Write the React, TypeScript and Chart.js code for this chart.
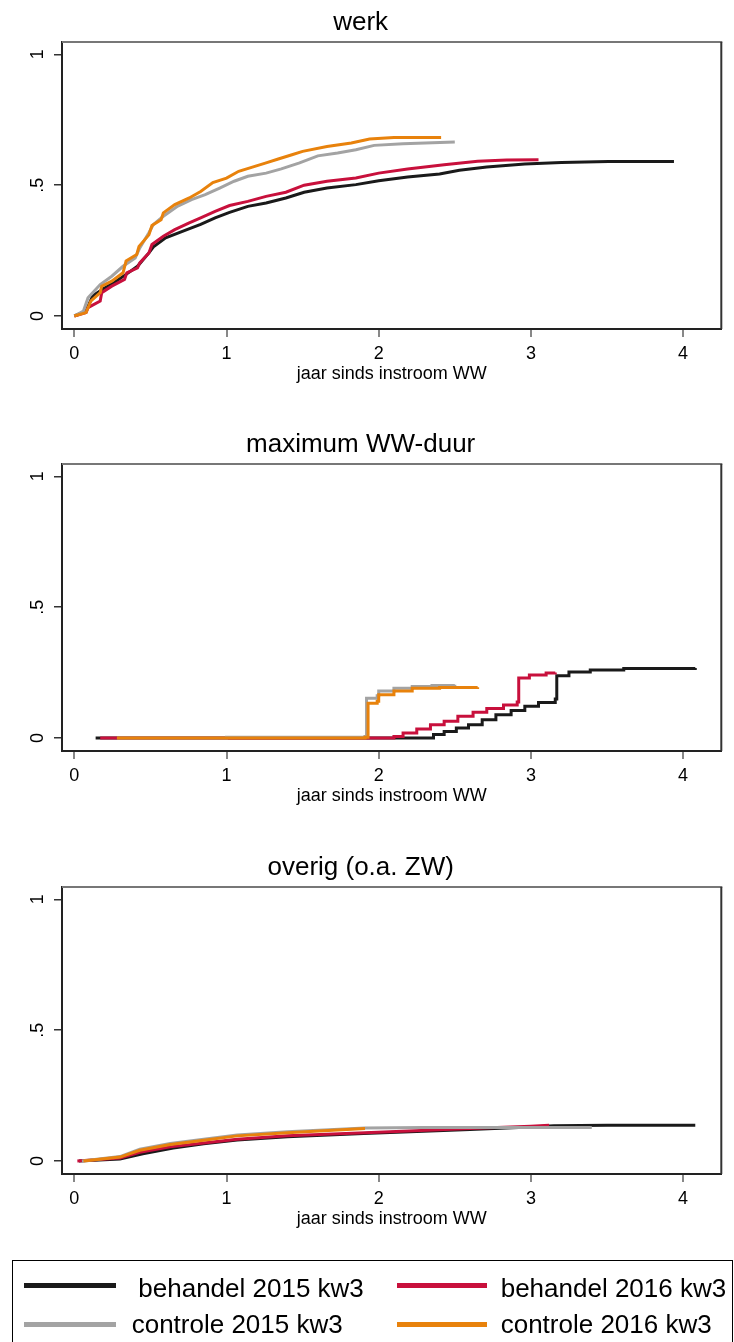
import React, { useEffect, useRef } from "react";
import { Chart, registerables } from "chart.js";

Chart.register(...registerables);

// ---------- data ----------
const PANEL_TITLES = ["werk", "maximum WW-duur", "overig (o.a. ZW)"];
const SERIES_LABELS = [
  "behandel 2015 kw3",
  "behandel 2016 kw3",
  "controle 2015 kw3",
  "controle 2016 kw3",
];
const X_AXIS_TITLE = "jaar sinds instroom WW";
const X_TICKS = [0, 1, 2, 3, 4];
const Y_TICKS = [0, 0.5, 1];
const Y_TICK_LABELS = ["0", ".5", "1"];

type Pt = [number, number];

// panel 1: werk
const WERK_BEH2015: Pt[] = [
  [0, 0], [0.077, 0.019], [0.12, 0.076], [0.185, 0.102], [0.26, 0.127], [0.34, 0.159],
  [0.415, 0.19], [0.49, 0.241], [0.52, 0.264], [0.6, 0.299], [0.74, 0.33], [0.83, 0.35],
  [0.925, 0.375], [1.02, 0.396], [1.14, 0.419], [1.26, 0.432], [1.39, 0.451], [1.51, 0.473],
  [1.66, 0.489], [1.85, 0.502], [2.0, 0.517], [2.19, 0.531], [2.4, 0.543], [2.53, 0.557],
  [2.71, 0.569], [2.96, 0.581], [3.2, 0.587], [3.51, 0.59], [3.94, 0.59],
];
const WERK_BEH2016: Pt[] = [
  [0, 0], [0.077, 0.013], [0.09, 0.032], [0.17, 0.057], [0.18, 0.089], [0.246, 0.114],
  [0.33, 0.14], [0.345, 0.165], [0.415, 0.184], [0.43, 0.203], [0.49, 0.241], [0.51, 0.273],
  [0.585, 0.305], [0.66, 0.33], [0.755, 0.356], [0.83, 0.375], [0.925, 0.4], [1.02, 0.422],
  [1.14, 0.438], [1.26, 0.457], [1.39, 0.473], [1.51, 0.5], [1.66, 0.515], [1.85, 0.527],
  [2.0, 0.546], [2.19, 0.562], [2.43, 0.578], [2.65, 0.591], [2.84, 0.596], [3.05, 0.597],
];
const WERK_CON2015: Pt[] = [
  [0, 0], [0.06, 0.019], [0.09, 0.07], [0.17, 0.12], [0.246, 0.152], [0.32, 0.19],
  [0.4, 0.222], [0.43, 0.26], [0.49, 0.318], [0.52, 0.35], [0.585, 0.381], [0.68, 0.42],
  [0.77, 0.445], [0.86, 0.464], [0.955, 0.489], [1.05, 0.515], [1.14, 0.534], [1.26, 0.546],
  [1.36, 0.562], [1.48, 0.585], [1.6, 0.612], [1.73, 0.623], [1.85, 0.635], [1.97, 0.652],
  [2.16, 0.658], [2.5, 0.665],
];
const WERK_CON2016: Pt[] = [
  [0, 0], [0.077, 0.013], [0.108, 0.057], [0.17, 0.089], [0.18, 0.114], [0.246, 0.133],
  [0.32, 0.165], [0.34, 0.21], [0.41, 0.235], [0.425, 0.266], [0.49, 0.31], [0.51, 0.346],
  [0.57, 0.368], [0.585, 0.394], [0.66, 0.426], [0.755, 0.451], [0.83, 0.476], [0.91, 0.51],
  [1.0, 0.527], [1.08, 0.553], [1.17, 0.569], [1.26, 0.585], [1.34, 0.6], [1.43, 0.616],
  [1.5, 0.629], [1.66, 0.648], [1.82, 0.661], [1.94, 0.676], [2.1, 0.682], [2.41, 0.682],
];

// panel 2: maximum WW-duur
const MAX_BEH2015: Pt[] = [
  [0.14, 0], [2.31, 0], [2.36, 0.013], [2.43, 0.025], [2.51, 0.038], [2.59, 0.051],
  [2.68, 0.07], [2.77, 0.089], [2.87, 0.105], [2.96, 0.121], [3.05, 0.136], [3.16, 0.149],
  [3.17, 0.238], [3.25, 0.252], [3.39, 0.26], [3.61, 0.266], [4.08, 0.267],
];
const MAX_BEH2016: Pt[] = [
  [0.17, 0], [2.08, 0], [2.1, 0.006], [2.16, 0.019], [2.25, 0.034], [2.34, 0.051],
  [2.43, 0.064], [2.52, 0.083], [2.62, 0.098], [2.71, 0.113], [2.82, 0.126], [2.91, 0.138],
  [2.92, 0.229], [2.99, 0.241], [3.1, 0.248], [3.16, 0.25],
];
const MAX_CON2015: Pt[] = [
  [0.28, 0], [1.0, 0.003], [1.91, 0.006], [1.92, 0.152], [1.99, 0.161], [2.0, 0.18],
  [2.1, 0.19], [2.22, 0.197], [2.35, 0.201], [2.5, 0.203],
];
const MAX_CON2016: Pt[] = [
  [0.28, 0], [1.91, 0.003], [1.93, 0.133], [1.99, 0.14], [2.0, 0.165], [2.1, 0.18],
  [2.22, 0.19], [2.4, 0.193], [2.65, 0.194],
];

// panel 3: overig (o.a. ZW)
const OVR_BEH2015: Pt[] = [
  [0.03, 0], [0.3, 0.008], [0.45, 0.028], [0.65, 0.05], [0.85, 0.066], [1.07, 0.08],
  [1.4, 0.093], [1.9, 0.105], [2.6, 0.12], [3.0, 0.13], [3.15, 0.135], [3.5, 0.137], [4.08, 0.137],
];
const OVR_BEH2016: Pt[] = [
  [0.02, 0], [0.3, 0.011], [0.43, 0.033], [0.63, 0.054], [0.85, 0.069], [1.07, 0.083],
  [1.4, 0.096], [1.91, 0.108], [2.6, 0.124], [3.0, 0.133], [3.12, 0.137],
];
const OVR_CON2015: Pt[] = [
  [0.05, 0], [0.3, 0.017], [0.43, 0.045], [0.63, 0.067], [0.85, 0.083], [1.07, 0.099],
  [1.4, 0.112], [1.91, 0.126], [2.3, 0.128], [3.4, 0.128],
];
const OVR_CON2016: Pt[] = [
  [0.06, 0], [0.3, 0.015], [0.43, 0.041], [0.63, 0.063], [0.85, 0.079], [1.07, 0.096],
  [1.4, 0.108], [1.91, 0.124],
];

const PANEL_SERIES: Pt[][][] = [
  [WERK_BEH2015, WERK_BEH2016, WERK_CON2015, WERK_CON2016],
  [MAX_BEH2015, MAX_BEH2016, MAX_CON2015, MAX_CON2016],
  [OVR_BEH2015, OVR_BEH2016, OVR_CON2015, OVR_CON2016],
];
const PANEL_STEPPED = [false, true, false];

// ---------- styles ----------
const COLORS = ["#1a1a1a", "#c8103c", "#a3a3a3", "#e8820c"];
const DRAW_ORDER = [4, 3, 2, 1]; // higher drawn first -> orange on top
const FONT = "'Liberation Sans', Arial, sans-serif";
const W = 734;
const PANEL_H = 422;
const PANEL_TOPS = [0, 422, 845];

const framePlugin = {
  id: "frame",
  afterDraw(chart: any) {
    const { ctx, chartArea: a } = chart;
    ctx.save();
    ctx.lineWidth = 2;
    ctx.strokeStyle = "#777";
    ctx.beginPath();
    ctx.moveTo(a.left, a.top);
    ctx.lineTo(a.right + 1, a.top);
    ctx.stroke();
    ctx.strokeStyle = "#333";
    ctx.beginPath();
    ctx.moveTo(a.right, a.top);
    ctx.lineTo(a.right, a.bottom);
    ctx.stroke();
    ctx.restore();
  },
};

function Panel({ index }: { index: number }) {
  const ref = useRef<HTMLCanvasElement>(null);
  useEffect(() => {
    const series = PANEL_SERIES[index];
    const chart = new Chart(ref.current!, {
      type: "line",
      data: {
        datasets: series.map((pts, i) => ({
          label: SERIES_LABELS[i],
          data: pts.map(([x, y]) => ({ x, y })),
          borderColor: COLORS[i],
          backgroundColor: COLORS[i],
          borderWidth: 3,
          pointRadius: 0,
          fill: false,
          tension: 0,
          stepped: PANEL_STEPPED[index] ? "before" : false,
          order: DRAW_ORDER[i],
        })),
      },
      options: {
        animation: false,
        responsive: false,
        devicePixelRatio: 1,
        layout: { padding: { left: 0, right: 12.7, top: 0, bottom: 0 } },
        plugins: {
          legend: { display: false },
          tooltip: { enabled: false },
          title: {
            display: true,
            text: PANEL_TITLES[index],
            color: "#000",
            font: { family: FONT, size: 26, weight: "normal" },
            padding: { top: 7.1, bottom: 3.7 },
          },
        },
        scales: {
          x: {
            type: "linear",
            min: -0.081,
            max: 4.251,
            afterBuildTicks: (axis: any) => {
              axis.ticks = X_TICKS.map((v) => ({ value: v }));
            },
            afterFit: (axis: any) => {
              axis.height = 93;
            },
            ticks: {
              autoSkip: false,
              maxRotation: 0,
              minRotation: 0,
              padding: 6,
              color: "#000",
              font: { family: FONT, size: 18 },
              callback: (v: any) => String(v),
            },
            grid: {
              drawOnChartArea: false,
              drawTicks: true,
              tickLength: 8,
              color: "#888",
              lineWidth: 2,
            },
            border: { display: true, color: "#222", width: 2 },
            title: {
              display: true,
              text: X_AXIS_TITLE,
              color: "#000",
              font: { family: FONT, size: 18 },
              padding: { top: 0, bottom: 36.7 },
            },
          },
          y: {
            type: "linear",
            min: -0.0497,
            max: 1.047,
            afterBuildTicks: (axis: any) => {
              axis.ticks = Y_TICKS.map((v) => ({ value: v }));
            },
            afterFit: (axis: any) => {
              axis.width = 62;
            },
            ticks: {
              autoSkip: false,
              minRotation: 90,
              maxRotation: 90,
              crossAlign: "center",
              padding: 8.5,
              color: "#000",
              font: { family: FONT, size: 18 },
              callback: (v: any) => {
                const i = Y_TICKS.indexOf(Number(v));
                return i >= 0 ? Y_TICK_LABELS[i] : "";
              },
            },
            grid: {
              drawOnChartArea: false,
              drawTicks: true,
              tickLength: 8,
              color: "#333",
              lineWidth: 1.5,
            },
            border: { display: true, color: "#222", width: 2 },
          },
        },
      } as any,
      plugins: [framePlugin],
    });
    return () => chart.destroy();
  }, [index]);
  return (
    <canvas
      ref={ref}
      width={W}
      height={PANEL_H}
      style={{ position: "absolute", left: 0, top: PANEL_TOPS[index], width: W, height: PANEL_H }}
    />
  );
}

const LEGEND_ITEMS = [
  { s: 0, lineX: 24.3, lineW: 91.7, lineY: 1285.8, textX: 138.3, textTop: 1272.7 },
  { s: 1, lineX: 396.7, lineW: 90.3, lineY: 1285.8, textX: 500.7, textTop: 1272.7 },
  { s: 2, lineX: 24.3, lineW: 91.7, lineY: 1324.2, textX: 131.7, textTop: 1309.3 },
  { s: 3, lineX: 396.7, lineW: 90.3, lineY: 1324.2, textX: 500.7, textTop: 1309.3 },
];

export default function App() {
  return (
    <div
      style={{
        position: "absolute",
        left: 0,
        top: 0,
        width: W,
        height: 1342,
        overflow: "hidden",
        background: "#fff",
      }}
    >
      {[0, 1, 2].map((i) => (
        <Panel key={i} index={i} />
      ))}
      <div
        style={{
          position: "absolute",
          left: 12,
          top: 1260.3,
          width: 721,
          height: 100,
          border: "1.5px solid #000",
          boxSizing: "border-box",
        }}
      />
      {LEGEND_ITEMS.map((it) => (
        <React.Fragment key={it.s}>
          <div
            style={{
              position: "absolute",
              left: it.lineX,
              top: it.lineY - 2.5,
              width: it.lineW,
              height: 5,
              background: COLORS[it.s],
            }}
          />
          <div
            style={{
              position: "absolute",
              left: it.textX,
              top: it.textTop,
              fontFamily: FONT,
              fontSize: 26,
              lineHeight: "30px",
              whiteSpace: "nowrap",
              color: "#000",
            }}
          >
            {SERIES_LABELS[it.s]}
          </div>
        </React.Fragment>
      ))}
    </div>
  );
}
